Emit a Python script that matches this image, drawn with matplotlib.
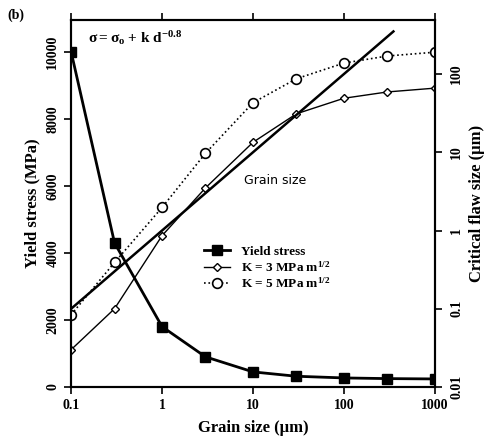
import numpy as np
import matplotlib.pyplot as plt
import matplotlib as mpl

mpl.rcParams.update({
    'font.family': 'serif',
    'font.serif': ['Liberation Serif', 'DejaVu Serif'],
    'font.weight': 'bold',
    'mathtext.fontset': 'custom',
    'mathtext.rm': 'Liberation Serif:bold',
    'mathtext.it': 'Liberation Serif:bold',
    'mathtext.bf': 'Liberation Serif:bold',
    'axes.linewidth': 1.5,
})

# data
grain = [0.1, 0.3, 1, 3, 10, 30, 100, 300, 1000]
yield_stress = [10000, 4300, 1800, 900, 450, 320, 270, 250, 240]
flaw_k3 = [0.03, 0.1, 0.86, 3.5, 13.4, 31, 49, 59, 66]
flaw_k5 = [0.084, 0.39, 1.97, 9.7, 43, 87, 138, 170, 190]
line_d = [0.1, 350]

fig = plt.figure(figsize=(5.01, 4.4), dpi=100)
ax = fig.add_axes([0.142, 0.1205, 0.726, 0.834])
ax2 = ax.twinx()

h1, = ax.plot(grain, yield_stress, '-s', color='black', lw=2.0, ms=7,
              mfc='black', label='Yield stress')
h2, = ax2.plot(grain, flaw_k3, '-D', color='black', lw=1.0, ms=4,
               mfc='white', mew=1.0, label=r'K = 3 MPa m$^{1/2}$')
h3, = ax2.plot(grain, flaw_k5, ':o', color='black', lw=1.2, ms=7,
               mfc='white', mew=1.2, label=r'K = 5 MPa m$^{1/2}$')
ax2.plot(line_d, line_d, '-', color='black', lw=1.8)

ax.set_xscale('log')
ax.set_xlim(0.1, 1000)
ax.set_ylim(0, 10950)
ax2.set_yscale('log')
ax2.set_ylim(0.01, 490)

ax.set_xticks([0.1, 1, 10, 100, 1000])
ax.set_xticklabels(['0.1', '1', '10', '100', '1000'])
ax.xaxis.set_minor_locator(mpl.ticker.NullLocator())
ax.set_yticks([0, 2000, 4000, 6000, 8000, 10000])
ax.set_yticklabels(['0', '2000', '4000', '6000', '8000', '10000'],
                   rotation=90, va='center')
ax2.set_yticks([0.01, 0.1, 1, 10, 100])
ax2.set_yticklabels(['0.01', '0.1', '1', '10', '100'], rotation=90, va='center')
ax2.yaxis.set_minor_locator(mpl.ticker.NullLocator())

ax.tick_params(axis='both', labelsize=10, width=1.2, length=5, direction='out',
               top=True)
ax2.tick_params(axis='y', labelsize=10, width=1.2, length=5, direction='out',
                pad=6)

ax.set_xlabel('Grain size (µm)', fontsize=12, fontweight='bold', labelpad=6)
ax.set_ylabel('Yield stress (MPa)', fontsize=12, fontweight='bold')
ax2.set_ylabel('Critical flaw size (µm)', fontsize=12, fontweight='bold')

ax.text(0.045, 0.95, r'$\sigma = \sigma_o$ + k d$^{-0.8}$', transform=ax.transAxes,
        fontsize=11, va='center')
ax2.text(8, 4.4, 'Grain size', fontsize=9, family='DejaVu Sans',
         fontweight='normal', va='center')
fig.text(0.015, 0.965, '(b)', fontsize=10, fontweight='bold', va='center')

ax2.legend(handles=[h1, h2, h3], loc='upper left', bbox_to_anchor=(0.35, 0.40),
           frameon=False, fontsize=9.5, handlelength=2.0, handletextpad=0.8,
           labelspacing=0.15, borderaxespad=0)

fig.savefig('out.png', dpi=100)
